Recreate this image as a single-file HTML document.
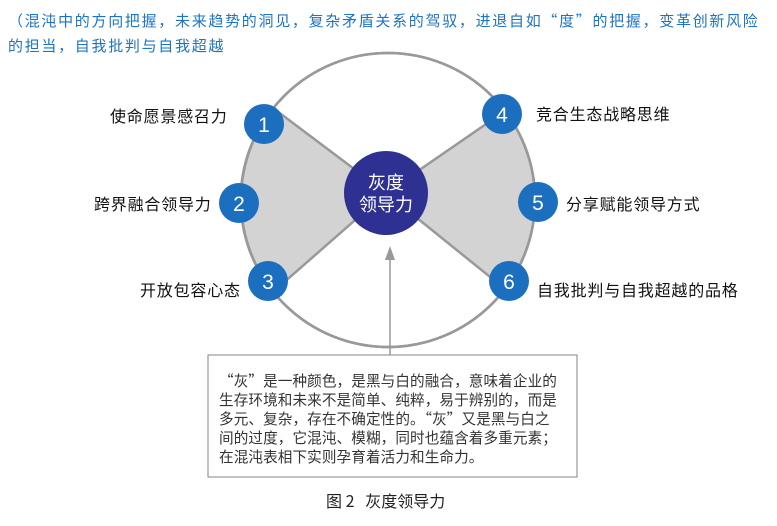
<!DOCTYPE html>
<html><head><meta charset="utf-8"><style>
body{margin:0;width:777px;height:526px;background:#fff;overflow:hidden;font-family:"Noto Sans CJK SC","Liberation Sans",sans-serif;position:relative}
.t{position:absolute;white-space:nowrap}
</style></head><body>
<div class="t" style="left:8px;top:8px;color:#1c74c4;font-size:15px;line-height:25px;letter-spacing:1.7px">（混沌中的方向把握，未来趋势的洞见，复杂矛盾关系的驾驭，进退自如“度”的把握，变革创新风险<br>的担当，自我批判与自我超越</div>
<svg width="777" height="526" style="position:absolute;left:0;top:0">
<circle cx="388" cy="200" r="147" fill="#fff" stroke="#999" stroke-width="2.5"/>
<path d="M273,108 L386,193 L273,292 A147,147 0 0 1 273,108 Z" fill="#d3d3d3" stroke="#999" stroke-width="2.5"/>
<path d="M505,111 L386,193 L505,289 A147,147 0 0 0 505,111 Z" fill="#d3d3d3" stroke="#999" stroke-width="2.5"/>
<circle cx="388" cy="200" r="147" fill="none" stroke="#999" stroke-width="2.5"/>
<circle cx="386" cy="193" r="42" fill="#2e3192"/>
<text x="386" y="189" fill="#fff" font-size="18" text-anchor="middle" font-family="Noto Sans CJK SC">灰度</text>
<text x="386" y="211" fill="#fff" font-size="18" text-anchor="middle" font-family="Noto Sans CJK SC">领导力</text>
<g fill="#1c6fbe"><circle cx="264" cy="124" r="20"/><circle cx="239" cy="203" r="20"/><circle cx="268" cy="281" r="20"/><circle cx="502" cy="114" r="20"/><circle cx="538" cy="202" r="20"/><circle cx="509" cy="281" r="20"/></g>
<g fill="#fff" font-size="21" text-anchor="middle" font-family="Liberation Sans"><text x="264" y="132">1</text><text x="239" y="211">2</text><text x="268" y="289">3</text><text x="502" y="122">4</text><text x="538" y="210">5</text><text x="509" y="289">6</text></g>
<line x1="390" y1="258" x2="390" y2="355" stroke="#999" stroke-width="1.5"/>
<polygon points="390,246 385,260 395,260" fill="#999"/>
<rect x="208" y="355" width="369" height="122" fill="#fff" stroke="#999" stroke-width="1.2"/>
<g font-size="16" fill="#111" font-family="Noto Sans CJK SC" letter-spacing="0.8"><text x="110" y="122">使命愿景感召力</text><text x="94" y="210">跨界融合领导力</text><text x="140" y="296">开放包容心态</text><text x="536" y="120">竞合生态战略思维</text><text x="566" y="210">分享赋能领导方式</text><text x="537" y="296">自我批判与自我超越的品格</text></g>
</svg>
<div class="t" style="left:219px;top:371px;font-size:14.6px;line-height:19px;color:#333;letter-spacing:0.1px">“灰”是一种颜色，是黑与白的融合，意味着企业的<br>生存环境和未来不是简单、纯粹，易于辨别的，而是<br>多元、复杂，存在不确定性的。“灰”又是黑与白之<br>间的过度，它混沌、模糊，同时也蕴含着多重元素；<br>在混沌表相下实则孕育着活力和生命力。</div>
<div class="t" style="left:326px;top:488px;font-size:16px;color:#222">图 2&nbsp;&nbsp;&nbsp;灰度领导力</div>
</body></html>
